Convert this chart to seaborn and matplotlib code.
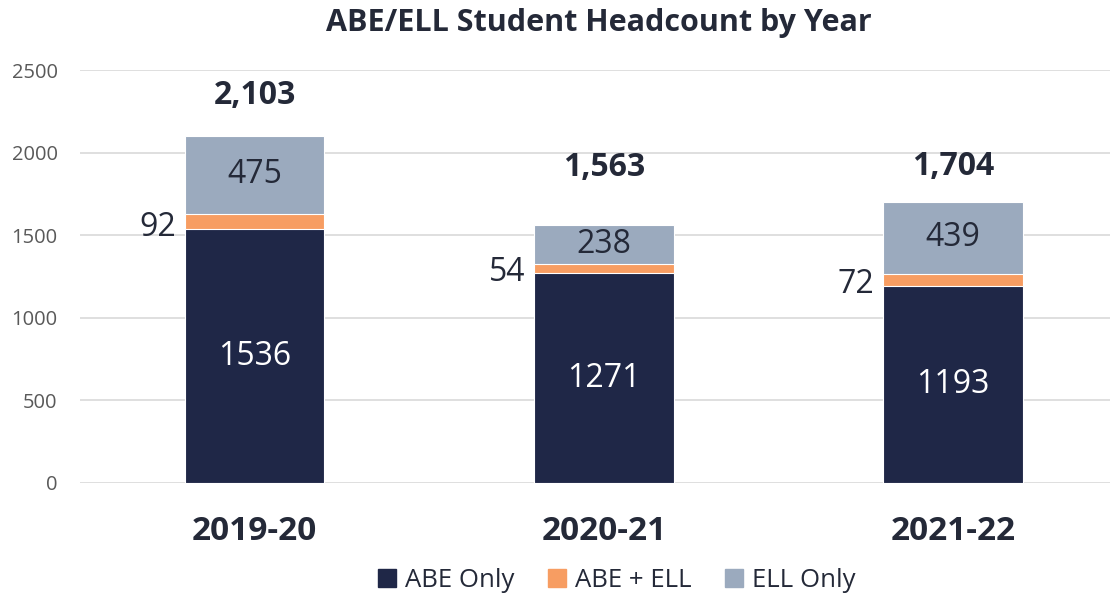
import pandas as pd
import numpy as np
import matplotlib.pyplot as plt
import seaborn as sns

# ── Data ──────────────────────────────────────────────────────────────────────
years    = ['2019-20', '2020-21', '2021-22']
abe_only = [1536, 1271, 1193]
abe_ell  = [92, 54, 72]
ell_only = [475, 238, 439]
totals   = [2103, 1563, 1704]

NAVY, ORANGE, GREY = '#1F2747', '#F79D62', '#9BAABE'
INK = '#242938'

df = pd.DataFrame({'year': years, 'abe': abe_only, 'both': abe_ell, 'ell': ell_only})
df['lvl2'] = df['abe'] + df['both']
df['lvl3'] = df['lvl2'] + df['ell']

sns.set_theme(style='white')
plt.rcParams['font.family'] = ['Open Sans', 'DejaVu Sans']

fig = plt.figure(figsize=(11.2, 6), dpi=100)
ax = fig.add_axes([0.0714, 0.195, 0.92, 0.688])

# stacked bars by overdrawing cumulative levels
for col, c in [('lvl3', GREY), ('lvl2', ORANGE), ('abe', NAVY)]:
    sns.barplot(data=df, x='year', y=col, color=c, width=0.4, saturation=1,
                edgecolor='white', linewidth=0.8, ax=ax, zorder=3)

ax.set_ylim(0, 2500)
ax.set_xlim(-0.5, 2.45)
ax.set_yticks(range(0, 2501, 500))
ax.yaxis.grid(True, color='#D9D9D9', linewidth=1.2, zorder=0)
for s in ax.spines.values():
    s.set_visible(False)
ax.set_xlabel('')
ax.set_ylabel('')
ax.tick_params(axis='y', labelsize=14.5, labelcolor='#595959', length=0, pad=16)
ax.tick_params(axis='x', labelsize=24, labelcolor=INK, length=0, pad=23)
for t in ax.get_xticklabels():
    t.set_fontweight('bold')

# ── Labels ────────────────────────────────────────────────────────────────────
tot_off = [245, 345, 210]
for i in range(len(years)):
    ax.text(i, abe_only[i] / 2, str(abe_only[i]), ha='center', va='center',
            color='white', fontsize=23, zorder=5)
    ax.text(i - 0.225, abe_only[i] + abe_ell[i] * 0.1, str(abe_ell[i]),
            ha='right', va='center', color=INK, fontsize=23, zorder=5)
    ax.text(i, abe_only[i] + abe_ell[i] + ell_only[i] / 2, str(ell_only[i]),
            ha='center', va='center', color=INK, fontsize=23, zorder=5)
    ax.text(i, totals[i] + tot_off[i], f'{totals[i]:,}', ha='center', va='center',
            color=INK, fontsize=23, fontweight='bold', zorder=5)

fig.text(0.535, 0.962, 'ABE/ELL Student Headcount by Year', ha='center', va='center',
         fontsize=22, fontweight='bold', color=INK)

handles = [plt.Rectangle((0, 0), 1, 1, color=c) for c in (NAVY, ORANGE, GREY)]
fig.legend(handles, ['ABE Only', 'ABE + ELL', 'ELL Only'], loc='center',
           bbox_to_anchor=(0.551, 0.033), ncol=3, frameon=False, fontsize=18.5,
           handlelength=0.7, handleheight=0.7, handletextpad=0.35, columnspacing=1.3,
           labelcolor=INK)

fig.savefig('out.png', dpi=100)
